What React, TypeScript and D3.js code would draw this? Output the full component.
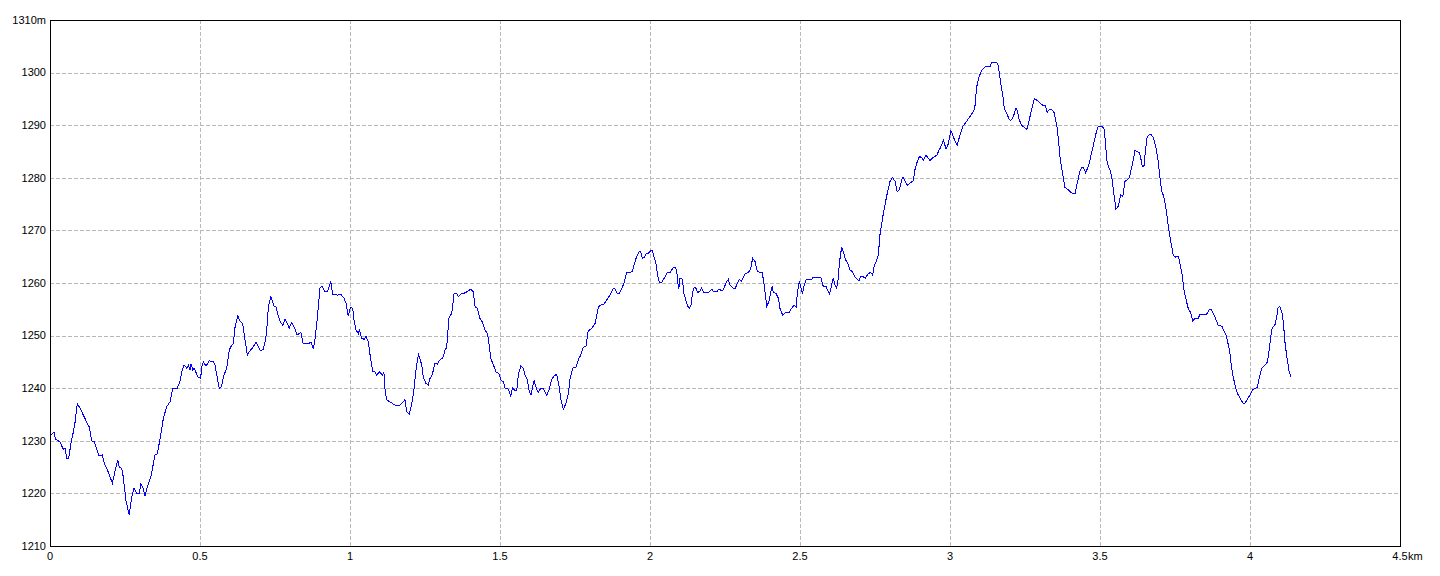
import * as d3 from "d3";

// elevation profile
const distanceKm = [
  0.002, 0.013, 0.018, 0.033, 0.044, 0.05, 0.056, 0.062, 0.072, 0.078, 0.083, 0.091, 0.1, 0.111, 0.122, 0.131,
  0.139, 0.148, 0.156, 0.163, 0.174, 0.183, 0.194, 0.208, 0.217, 0.226, 0.231, 0.239, 0.244, 0.253, 0.264, 0.272,
  0.28, 0.289, 0.298, 0.302, 0.309, 0.317, 0.324, 0.336, 0.35, 0.358, 0.367, 0.378, 0.389, 0.4, 0.409, 0.424,
  0.433, 0.439, 0.447, 0.456, 0.461, 0.467, 0.47, 0.476, 0.48, 0.494, 0.502, 0.507, 0.511, 0.52, 0.531, 0.544,
  0.55, 0.556, 0.564, 0.572, 0.578, 0.589, 0.598, 0.606, 0.611, 0.617, 0.626, 0.633, 0.642, 0.65, 0.658, 0.664,
  0.678, 0.687, 0.694, 0.702, 0.711, 0.717, 0.722, 0.728, 0.736, 0.741, 0.747, 0.753, 0.761, 0.769, 0.776, 0.783,
  0.789, 0.797, 0.806, 0.817, 0.824, 0.836, 0.844, 0.861, 0.87, 0.878, 0.883, 0.891, 0.9, 0.906, 0.917, 0.924,
  0.931, 0.936, 0.942, 0.958, 0.969, 0.98, 0.987, 0.994, 1.002, 1.009, 1.013, 1.02, 1.028, 1.031, 1.039, 1.047,
  1.053, 1.061, 1.067, 1.076, 1.083, 1.089, 1.098, 1.109, 1.113, 1.117, 1.122, 1.133, 1.15, 1.167, 1.183, 1.189,
  1.198, 1.206, 1.213, 1.22, 1.228, 1.233, 1.239, 1.244, 1.253, 1.261, 1.267, 1.274, 1.283, 1.291, 1.3, 1.309,
  1.317, 1.322, 1.33, 1.339, 1.347, 1.356, 1.361, 1.369, 1.378, 1.389, 1.402, 1.411, 1.417, 1.424, 1.433, 1.442,
  1.45, 1.458, 1.464, 1.469, 1.478, 1.487, 1.496, 1.503, 1.511, 1.517, 1.528, 1.536, 1.542, 1.55, 1.556, 1.561,
  1.569, 1.578, 1.583, 1.591, 1.598, 1.603, 1.609, 1.614, 1.622, 1.628, 1.636, 1.644, 1.652, 1.656, 1.664, 1.672,
  1.68, 1.687, 1.691, 1.698, 1.702, 1.711, 1.72, 1.728, 1.733, 1.742, 1.753, 1.761, 1.769, 1.778, 1.787, 1.794,
  1.806, 1.817, 1.828, 1.836, 1.847, 1.856, 1.867, 1.878, 1.884, 1.891, 1.898, 1.906, 1.913, 1.922, 1.933, 1.941,
  1.948, 1.956, 1.964, 1.969, 1.974, 1.981, 1.987, 1.994, 2.002, 2.008, 2.013, 2.02, 2.026, 2.031, 2.039, 2.047,
  2.058, 2.067, 2.076, 2.083, 2.089, 2.092, 2.096, 2.1, 2.108, 2.113, 2.118, 2.124, 2.131, 2.137, 2.142, 2.148,
  2.153, 2.159, 2.167, 2.172, 2.18, 2.194, 2.206, 2.213, 2.222, 2.229, 2.242, 2.256, 2.261, 2.267, 2.278, 2.284,
  2.291, 2.298, 2.304, 2.311, 2.318, 2.328, 2.336, 2.342, 2.35, 2.358, 2.367, 2.374, 2.38, 2.384, 2.389, 2.396,
  2.402, 2.407, 2.411, 2.42, 2.428, 2.433, 2.442, 2.453, 2.464, 2.472, 2.48, 2.487, 2.491, 2.498, 2.502, 2.508,
  2.513, 2.521, 2.539, 2.544, 2.569, 2.576, 2.58, 2.587, 2.591, 2.598, 2.603, 2.611, 2.617, 2.622, 2.628, 2.631,
  2.639, 2.647, 2.652, 2.659, 2.667, 2.674, 2.683, 2.691, 2.697, 2.702, 2.711, 2.717, 2.728, 2.736, 2.742, 2.747,
  2.756, 2.761, 2.767, 2.776, 2.783, 2.791, 2.8, 2.808, 2.817, 2.824, 2.831, 2.839, 2.844, 2.853, 2.858, 2.869,
  2.878, 2.883, 2.891, 2.898, 2.906, 2.911, 2.92, 2.928, 2.933, 2.944, 2.956, 2.964, 2.967, 2.978, 2.987, 2.994,
  3.003, 3.013, 3.024, 3.033, 3.042, 3.056, 3.067, 3.078, 3.083, 3.089, 3.098, 3.106, 3.117, 3.133, 3.139, 3.156,
  3.161, 3.169, 3.176, 3.181, 3.189, 3.197, 3.203, 3.211, 3.22, 3.224, 3.231, 3.239, 3.247, 3.256, 3.264, 3.272,
  3.281, 3.291, 3.3, 3.311, 3.318, 3.324, 3.331, 3.339, 3.347, 3.356, 3.361, 3.367, 3.376, 3.383, 3.394, 3.406,
  3.417, 3.424, 3.433, 3.439, 3.444, 3.452, 3.461, 3.469, 3.478, 3.487, 3.494, 3.506, 3.513, 3.517, 3.52, 3.524,
  3.533, 3.539, 3.544, 3.549, 3.553, 3.561, 3.569, 3.576, 3.583, 3.591, 3.598, 3.606, 3.611, 3.617, 3.622, 3.631,
  3.636, 3.641, 3.647, 3.65, 3.656, 3.661, 3.669, 3.676, 3.683, 3.689, 3.694, 3.7, 3.706, 3.711, 3.717, 3.722,
  3.728, 3.733, 3.739, 3.744, 3.752, 3.761, 3.767, 3.774, 3.78, 3.787, 3.794, 3.802, 3.809, 3.817, 3.828, 3.833,
  3.856, 3.864, 3.872, 3.88, 3.887, 3.894, 3.906, 3.913, 3.92, 3.928, 3.933, 3.939, 3.944, 3.95, 3.958, 3.967,
  3.976, 3.983, 3.991, 4.0, 4.009, 4.02, 4.024, 4.031, 4.039, 4.05, 4.058, 4.064, 4.07, 4.074, 4.083, 4.089,
  4.094, 4.1, 4.106, 4.111, 4.117, 4.122, 4.128, 4.131, 4.136,
];

const elevationM = [
  1231.0, 1231.7, 1230.3, 1229.8, 1228.4, 1228.6, 1226.7, 1226.7, 1230.2, 1231.7, 1233.3, 1237.1, 1236.2, 1234.9, 1233.6, 1232.6,
  1230.0, 1229.8, 1228.3, 1227.2, 1227.3, 1225.4, 1224.1, 1221.9, 1224.4, 1226.3, 1225.0, 1224.8, 1223.2, 1218.7, 1215.9, 1219.1,
  1221.0, 1220.0, 1220.0, 1221.8, 1221.3, 1219.5, 1221.2, 1223.1, 1227.3, 1227.5, 1230.5, 1234.3, 1236.5, 1237.4, 1240.0, 1240.0,
  1241.2, 1243.1, 1244.4, 1243.8, 1244.4, 1243.5, 1244.6, 1243.5, 1243.8, 1242.1, 1241.9, 1244.4, 1245.0, 1244.2, 1245.2, 1245.0,
  1244.4, 1242.5, 1240.0, 1240.3, 1242.2, 1243.8, 1247.3, 1248.2, 1248.5, 1251.7, 1253.7, 1252.8, 1252.3, 1249.2, 1246.3, 1246.9,
  1247.9, 1248.8, 1248.0, 1247.1, 1247.4, 1248.8, 1250.7, 1255.5, 1257.4, 1256.6, 1255.5, 1255.6, 1253.6, 1252.5, 1252.0, 1253.1,
  1252.6, 1251.4, 1252.5, 1251.2, 1250.1, 1250.6, 1248.5, 1248.4, 1248.8, 1247.4, 1249.2, 1253.3, 1259.0, 1259.4, 1258.3, 1258.3,
  1259.3, 1260.3, 1257.9, 1257.7, 1257.9, 1257.1, 1256.1, 1253.7, 1255.4, 1255.2, 1253.0, 1251.1, 1250.4, 1251.2, 1249.5, 1249.3,
  1249.9, 1248.8, 1246.3, 1243.1, 1243.1, 1242.5, 1243.1, 1242.5, 1243.0, 1239.7, 1237.8, 1237.4, 1236.8, 1236.8, 1237.8, 1235.5,
  1235.1, 1237.1, 1239.7, 1243.5, 1246.4, 1245.7, 1244.4, 1242.2, 1240.9, 1240.6, 1241.9, 1242.5, 1244.7, 1244.6, 1245.4, 1245.7,
  1247.3, 1247.7, 1253.4, 1254.2, 1258.0, 1258.0, 1257.4, 1257.9, 1258.0, 1258.3, 1258.8, 1258.3, 1255.5, 1255.2, 1253.3, 1252.5,
  1251.1, 1250.4, 1248.2, 1245.7, 1244.4, 1243.1, 1242.8, 1241.6, 1241.2, 1240.0, 1239.8, 1238.5, 1240.1, 1239.5, 1239.7, 1242.5,
  1244.2, 1243.8, 1242.5, 1241.6, 1239.3, 1238.7, 1240.3, 1241.4, 1239.8, 1239.2, 1240.0, 1240.0, 1239.1, 1238.7, 1239.7, 1241.6,
  1242.3, 1242.6, 1242.2, 1240.0, 1238.1, 1236.0, 1237.1, 1239.0, 1241.6, 1243.8, 1244.0, 1245.4, 1246.3, 1247.8, 1248.0, 1250.9,
  1251.4, 1252.3, 1255.5, 1255.8, 1256.0, 1256.8, 1257.7, 1259.0, 1258.8, 1258.0, 1258.0, 1259.0, 1259.9, 1262.0, 1262.0, 1262.2,
  1263.7, 1265.1, 1266.0, 1266.0, 1264.7, 1264.9, 1265.5, 1265.6, 1266.1, 1266.1, 1265.0, 1263.7, 1261.3, 1260.1, 1260.1, 1260.9,
  1262.0, 1262.0, 1262.8, 1263.0, 1262.5, 1260.3, 1258.8, 1260.9, 1260.7, 1258.0, 1257.1, 1255.8, 1255.1, 1255.8, 1258.2, 1259.2,
  1259.0, 1258.2, 1258.5, 1259.0, 1258.2, 1258.2, 1258.8, 1258.3, 1258.3, 1258.8, 1258.5, 1260.3, 1260.7, 1259.6, 1259.0, 1259.0,
  1259.9, 1260.7, 1260.3, 1261.0, 1261.8, 1262.0, 1262.8, 1264.7, 1264.1, 1262.2, 1262.0, 1262.0, 1259.9, 1258.0, 1255.6, 1256.4,
  1258.0, 1259.4, 1258.2, 1258.0, 1257.1, 1255.2, 1253.9, 1254.4, 1254.4, 1255.2, 1255.8, 1255.5, 1258.0, 1260.4, 1259.4, 1257.9,
  1259.3, 1260.7, 1260.7, 1261.1, 1261.1, 1259.6, 1259.3, 1259.4, 1258.7, 1257.9, 1259.0, 1261.0, 1259.6, 1259.0, 1260.9, 1263.7,
  1266.9, 1265.5, 1264.4, 1263.7, 1262.5, 1262.2, 1261.2, 1260.7, 1260.4, 1261.3, 1261.2, 1260.9, 1261.8, 1262.0, 1261.5, 1263.1,
  1264.4, 1265.3, 1269.4, 1272.6, 1274.8, 1277.1, 1279.3, 1280.1, 1279.3, 1277.4, 1277.7, 1279.6, 1280.1, 1279.0, 1278.6, 1279.1,
  1279.4, 1281.5, 1283.1, 1284.0, 1283.9, 1283.4, 1284.3, 1283.7, 1283.3, 1283.9, 1284.3, 1285.3, 1285.6, 1287.1, 1285.5, 1286.4,
  1289.0, 1287.5, 1286.2, 1288.1, 1289.7, 1290.8, 1291.7, 1292.6, 1293.5, 1297.3, 1299.4, 1300.4, 1301.1, 1301.1, 1301.9, 1301.9,
  1301.3, 1298.0, 1295.7, 1293.2, 1292.3, 1291.1, 1290.9, 1291.6, 1293.2, 1292.9, 1291.0, 1290.0, 1289.6, 1289.2, 1291.0, 1292.9,
  1295.1, 1294.7, 1294.2, 1293.7, 1293.8, 1292.4, 1293.0, 1293.0, 1292.4, 1290.0, 1287.5, 1283.7, 1280.5, 1278.2, 1277.7, 1277.1,
  1277.1, 1279.0, 1281.2, 1282.0, 1282.0, 1281.0, 1282.1, 1284.0, 1286.2, 1288.5, 1289.8, 1289.8, 1289.4, 1287.5, 1285.3, 1282.8,
  1281.5, 1280.2, 1278.0, 1275.8, 1274.0, 1274.6, 1276.7, 1276.4, 1279.3, 1279.6, 1280.1, 1282.1, 1283.4, 1285.3, 1285.0, 1284.8,
  1283.7, 1282.1, 1282.3, 1284.3, 1287.5, 1288.1, 1288.3, 1287.8, 1286.6, 1285.0, 1283.1, 1279.9, 1277.4, 1276.7, 1275.2, 1273.3,
  1270.7, 1268.8, 1266.9, 1265.3, 1264.9, 1265.1, 1263.6, 1261.5, 1258.7, 1256.8, 1255.2, 1254.4, 1252.8, 1253.3, 1253.3, 1254.1,
  1254.1, 1255.0, 1254.9, 1253.9, 1253.0, 1252.0, 1251.8, 1250.9, 1250.1, 1248.2, 1246.6, 1243.8, 1242.2, 1240.6, 1239.0, 1238.1,
  1237.2, 1237.1, 1237.9, 1238.7, 1239.7, 1240.0, 1240.2, 1241.9, 1243.8, 1244.4, 1245.0, 1247.3, 1250.1, 1251.4, 1252.0, 1253.6,
  1255.4, 1255.5, 1254.5, 1252.6, 1248.5, 1246.3, 1244.1, 1243.0, 1242.2,
];

const xTicks = [0, 0.5, 1, 1.5, 2, 2.5, 3, 3.5, 4, 4.5];
const xTickLabels = ["0", "0.5", "1", "1.5", "2", "2.5", "3", "3.5", "4", "4.5"];
const yTicks = [1210, 1220, 1230, 1240, 1250, 1260, 1270, 1280, 1290, 1300, 1310];
const yTickLabels = ["1210", "1220", "1230", "1240", "1250", "1260", "1270", "1280", "1290", "1300", "1310m"];

export default function App() {
  const width = 1440;
  const height = 576;
  const margin = { top: 20, right: 40, bottom: 30, left: 50 };

  const x = d3.scaleLinear().domain([0, 4.5]).range([margin.left, width - margin.right]);
  const y = d3.scaleLinear().domain([1210, 1310]).range([height - margin.bottom, margin.top]);

  const points = distanceKm.map((d, i) => [d, elevationM[i]] as [number, number]);
  const line = d3.line<[number, number]>()
    .x(d => x(d[0]))
    .y(d => y(d[1]));

  const font = "'Liberation Sans', Arial, sans-serif";

  return (
    <svg width={width} height={height} style={{ position: "absolute", left: 0, top: 0, background: "#fff" }}>
      {/* grid */}
      <g stroke="#b8b8b8" strokeWidth={1} strokeDasharray="4,2" shapeRendering="crispEdges">
        {yTicks.slice(1, -1).map(t => (
          <line key={"gy" + t} x1={x(0)} x2={x(4.5)} y1={Math.round(y(t)) + 0.5} y2={Math.round(y(t)) + 0.5} />
        ))}
        {xTicks.slice(1, -1).map(t => (
          <line key={"gx" + t} x1={Math.round(x(t)) + 0.5} x2={Math.round(x(t)) + 0.5} y1={y(1310)} y2={y(1210)} />
        ))}
      </g>

      {/* profile line */}
      <path d={line(points) ?? ""} fill="none" stroke="#0000ff" strokeWidth={1} shapeRendering="crispEdges" />

      {/* frame */}
      <rect x={x(0) + 0.5} y={y(1310) + 0.5} width={x(4.5) - x(0)} height={y(1210) - y(1310)}
        fill="none" stroke="#000" strokeWidth={1} shapeRendering="crispEdges" />

      {/* y labels */}
      <g fontFamily={font} fontSize={11} fill="#000" textAnchor="end">
        {yTicks.map((t, i) => (
          <text key={"ly" + t} x={x(0) - 4} y={y(t)} dy="0.35em">{yTickLabels[i]}</text>
        ))}
      </g>

      {/* x labels */}
      <g fontFamily={font} fontSize={11} fill="#000" textAnchor="middle">
        {xTicks.map((t, i) => (
          <text key={"lx" + t} x={x(t)} y={y(1210) + 14}>{xTickLabels[i]}</text>
        ))}
        <text x={x(4.5) + 8} y={y(1210) + 14} textAnchor="start">km</text>
      </g>
    </svg>
  );
}
